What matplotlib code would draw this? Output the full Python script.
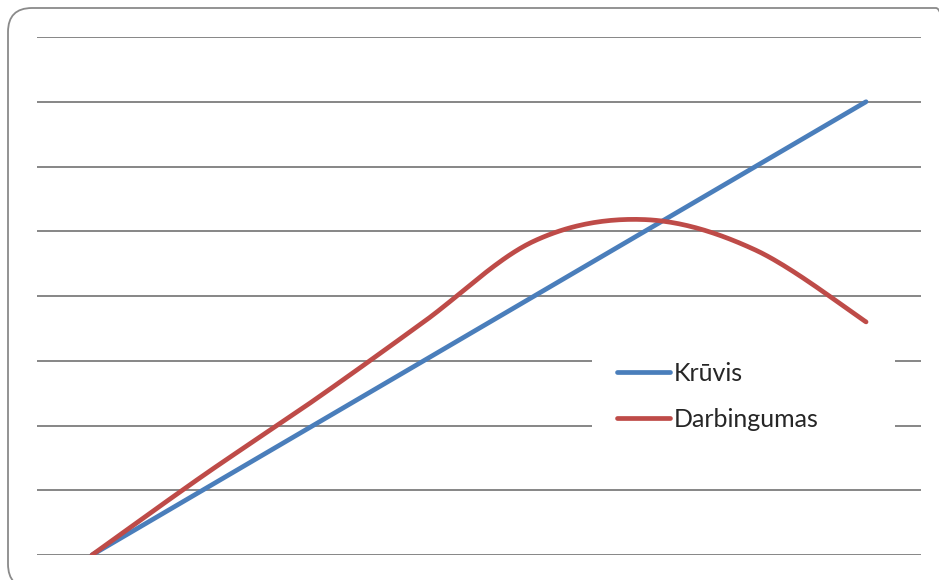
import numpy as np
import matplotlib
matplotlib.use("Agg")
import matplotlib.pyplot as plt
from matplotlib.patches import FancyBboxPatch, Rectangle
from matplotlib.transforms import IdentityTransform

categories = [1, 2, 3, 4, 5, 6, 7, 8]
kruvis = [0, 1, 2, 3, 4, 5, 6, 7]
darbingumas = [0, 1.22, 2.38, 3.6, 4.85, 5.18, 4.71, 3.6]
labels = ["Krūvis", "Darbingumas"]
colors = ["#4A7EBB", "#BE4B48"]


def smooth(xs, ys, n=40):
    xs = np.asarray(xs, float)
    ys = np.asarray(ys, float)
    px = np.concatenate([[xs[0]], xs, [xs[-1]]])
    py = np.concatenate([[ys[0]], ys, [ys[-1]]])
    outx, outy = [], []
    t = np.linspace(0, 1, n)
    for i in range(1, len(px) - 2):
        p0 = np.array([px[i], py[i]])
        p3 = np.array([px[i + 1], py[i + 1]])
        c1 = p0 + (np.array([px[i + 1], py[i + 1]]) - np.array([px[i - 1], py[i - 1]])) / 6
        c2 = p3 - (np.array([px[i + 2], py[i + 2]]) - np.array([px[i], py[i]])) / 6
        b = ((1 - t) ** 3)[:, None] * p0 + (3 * (1 - t) ** 2 * t)[:, None] * c1 \
            + (3 * (1 - t) * t ** 2)[:, None] * c2 + (t ** 3)[:, None] * p3
        outx.extend(b[:, 0]); outy.extend(b[:, 1])
    return np.array(outx), np.array(outy)


W, H = 939, 580
fig = plt.figure(figsize=(W / 100, H / 100), dpi=100)
fig.patch.set_facecolor("white")

# rounded outer border (pixel coordinates, origin bottom-left)
border = FancyBboxPatch((8, H - 588), 960 - 8, 588 - 8,
                        boxstyle="round,pad=0,rounding_size=24",
                        transform=IdentityTransform(), facecolor="none",
                        edgecolor="#8a8a8a", linewidth=1.3)
fig.patches.append(border)

ax = fig.add_axes([37 / W, 1 - 555 / H, (921 - 37) / W, (555 - 37) / H])
ax.set_xlim(-0.497, 7.497)
ax.set_ylim(0, 8)
ax.axis("off")

for g in range(0, 9):
    ax.axhline(g, color="#868686", linewidth=1.4, zorder=1)

x = np.arange(len(categories))
ax.plot(x, kruvis, color=colors[0], linewidth=3.4, solid_capstyle="round",
        zorder=3, label=labels[0])
sx, sy = smooth(x, darbingumas)
ax.plot(sx, sy, color=colors[1], linewidth=3.4, solid_capstyle="round",
        zorder=3, label=labels[1])

# white legend background
fig.patches.append(Rectangle((592 / W, 1 - 445 / H), (895 - 592) / W, (445 - 340) / H,
                             transform=fig.transFigure, facecolor="white",
                             edgecolor="none", zorder=5))

leg = fig.legend(loc="center left", bbox_to_anchor=(617 / W, 1 - 396.5 / H),
                 frameon=False, prop={"family": "Lato", "size": 18},
                 handlelength=2.12, handletextpad=0.15, labelspacing=0.92,
                 borderpad=0, borderaxespad=0)
leg.set_zorder(6)
for t in leg.get_texts():
    t.set_color("#262626")

fig.savefig("out.png", dpi=100, facecolor="white")
